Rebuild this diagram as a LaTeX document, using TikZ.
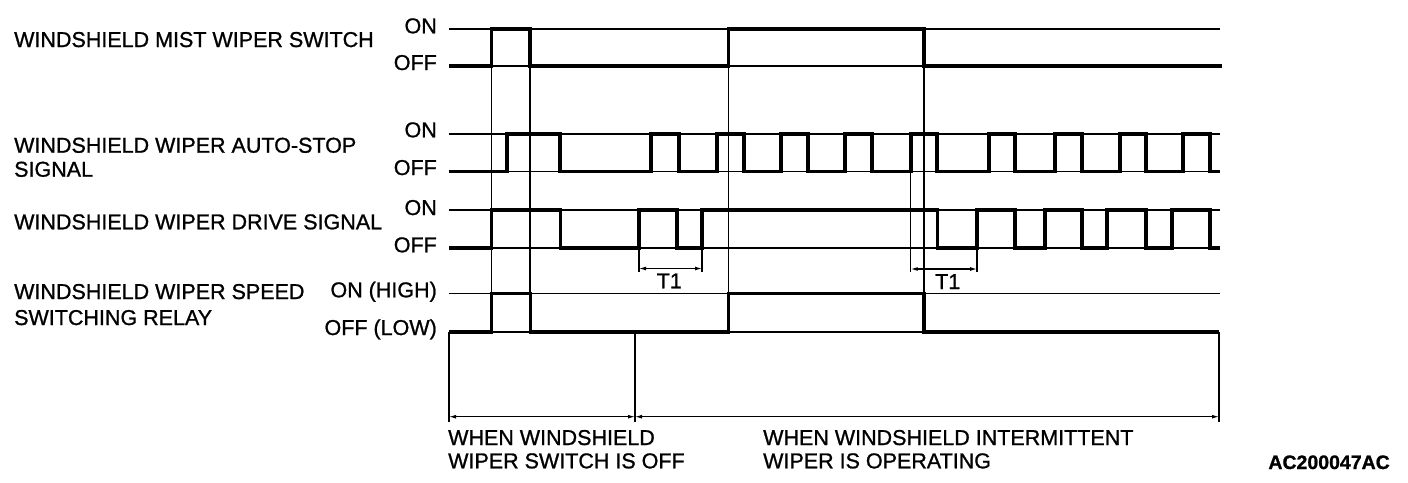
\documentclass[tikz,border=0pt]{standalone}
\usepackage{fontspec}
\setmainfont{Liberation Sans}[FakeBold=1]
\usetikzlibrary{arrows.meta}
\tikzset{
  lbl/.style={inner sep=0pt, anchor=base west, font=\fontsize{21.5}{24}\selectfont},
  lvl/.style={inner sep=0pt, anchor=base east, font=\fontsize{21.5}{24}\selectfont},
  code/.style={inner sep=0pt, anchor=base east, font=\fontsize{19.5}{22}\selectfont\bfseries},
  refline/.style={line width=1.3pt},
  sig/.style={line width=3.2pt, line join=miter},
  guide/.style={line width=1.1pt},
  mguide/.style={line width=1.7pt},
  tguide/.style={line width=2.4pt},
  dim/.style={line width=1.2pt, {Latex[length=7pt,width=4pt]}-{Latex[length=7pt,width=4pt]}}
}
\begin{document}
\begin{tikzpicture}[x=1pt,y=-1pt]
\useasboundingbox (0,0) rectangle (1408,482);
% ---- row labels
\node[lbl] (l1) at (14,47) {WINDSHIELD MIST WIPER SWITCH};
\node[lbl] (l2a) at (14,152.7) {WINDSHIELD WIPER AUTO-STOP};
\node[lbl] (l2b) at (14,176.7) {SIGNAL};
\node[lbl] (l3) at (14,229.3) {WINDSHIELD WIPER DRIVE SIGNAL};
\node[lbl] (l4a) at (14,299) {WINDSHIELD WIPER SPEED};
\node[lbl] (l4b) at (14,325) {SWITCHING RELAY};
% ---- level labels
\node[lvl] (on1) at (437,33.3) {ON};
\node[lvl] (off1) at (437,70) {OFF};
\node[lvl] (on2) at (437,137.3) {ON};
\node[lvl] (off2) at (437,175) {OFF};
\node[lvl] (on3) at (437,215) {ON};
\node[lvl] (off3) at (437,252.3) {OFF};
\node[lvl] (on4) at (437,297.3) {ON (HIGH)};
\node[lvl] (off4) at (437,335) {OFF (LOW)};
% ---- reference lines
\draw[refline] (449,29) -- (1220,29);
\draw[refline] (449,66) -- (1222,66);
\draw[refline] (449,134) -- (1220,134);
\draw[refline] (449,171.5) -- (1220,171.5);
\draw[refline] (449,210) -- (1220,210);
\draw[refline] (449,248) -- (1220,248);
\draw[refline] (449,293.5) -- (1220,293.5);
\draw[refline] (449,332) -- (1219,332);
% ---- vertical guides
\draw[mguide] (491.5,29) -- (491.5,332);
\draw[guide] (530,29) -- (530,332);
\draw[guide] (728.5,29) -- (728.5,332);
\draw[tguide] (924,29) -- (924,332);
\draw[guide] (910.7,171.5) -- (910.7,272);
\draw[guide] (639,248) -- (639,272);
\draw[guide] (702,248) -- (702,272);
\draw[guide] (977,248) -- (977,272);
% ---- signals
\draw[sig] (449,66) -| (491.5,29) -| (530,66) -| (728.5,29) -| (924,66) -- (1222,66);
\draw[sig] (449,171.5) -| (507,134) -| (560,171.5) -| (651,134) -| (679,171.5)
  -| (717,134) -| (744,171.5) -| (781,134) -| (808,171.5) -| (845,134)
  -| (872,171.5) -| (911,134) -| (937,171.5) -| (989,134) -| (1015,171.5)
  -| (1055,134) -| (1082,171.5) -| (1120,134) -| (1146,171.5) -| (1183,134)
  -| (1210,171.5) -- (1220,171.5);
\draw[sig] (449,248) -| (491.5,210) -| (560.5,248) -| (639,210) -| (677,248)
  -| (702,210) -| (937.5,248) -| (977,210) -| (1015,248) -| (1045,210)
  -| (1082,248) -| (1107,210) -| (1146,248) -| (1172,210) -| (1210,248) -- (1220,248);
\draw[sig] (449,332) -| (491.5,293.5) -| (530.5,332) -| (728.5,293.5) -| (924,332) -- (1219,332);
% ---- T1 dimensions
\coordinate (t1a) at (639,268.5);
\coordinate (t1b) at (702,268.5);
\coordinate (t2a) at (910.7,269);
\coordinate (t2b) at (977,269);
\draw[dim] (t1a) -- (t1b);
\draw[dim] (t2a) -- (t2b);
\node[lbl] (T1a) at (656.5,288.3) {T1};
\node[lbl] (T1b) at (935,289) {T1};
% ---- bottom bracket
\draw[mguide] (449,332) -- (449,422);
\draw[tguide] (635,332) -- (635,422);
\draw[mguide] (1219,332) -- (1219,422);
\coordinate (b1) at (449,416.7);
\coordinate (b2) at (635,416.7);
\coordinate (b3) at (1219,416.7);
\draw[dim] (b1) -- (b2);
\draw[dim] (b2) -- (b3);
\node[lbl] (w1a) at (448,445) {WHEN WINDSHIELD};
\node[lbl] (w1b) at (448,468.3) {WIPER SWITCH IS OFF};
\node[lbl] (w2a) at (763,445) {WHEN WINDSHIELD INTERMITTENT};
\node[lbl] (w2b) at (763,468.3) {WIPER IS OPERATING};
\node[code] (ac) at (1390,469) {AC200047AC};
\end{tikzpicture}
\end{document}
